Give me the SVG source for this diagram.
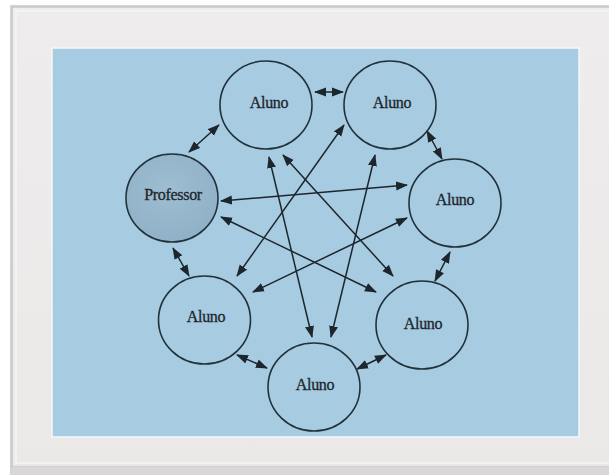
<svg xmlns="http://www.w3.org/2000/svg" width="609" height="475" viewBox="0 0 609 475">
<defs>
<style>
.node{fill:none;stroke:#22323b;stroke-width:1.6}
.lbl{font-family:"Liberation Serif","DejaVu Serif",serif;font-size:16px;fill:#1c262c;text-anchor:middle;stroke:#1c262c;stroke-width:0.3;letter-spacing:-0.3px}
.con line{stroke:#1c262c;stroke-width:1.5;marker-start:url(#ah);marker-end:url(#ah)}
</style>
<marker id="ah" markerUnits="userSpaceOnUse" markerWidth="12" markerHeight="10" refX="11" refY="5" orient="auto-start-reverse" viewBox="0 0 12 10">
<path d="M0,0.5 L12,5 L0,9.5 Z" fill="#1c262c"/>
</marker>
<radialGradient id="pg" cx="0.45" cy="0.4" r="0.7">
<stop offset="0" stop-color="#9ebdd1"/>
<stop offset="1" stop-color="#8dafc5"/>
</radialGradient>
<linearGradient id="fr" x1="0" y1="0" x2="0" y2="1">
<stop offset="0" stop-color="#eeecec"/>
<stop offset="1" stop-color="#ebe8e8"/>
</linearGradient>
</defs>
<rect x="0" y="0" width="609" height="475" fill="#ffffff"/>
<rect x="10" y="5" width="610" height="470" fill="#d6d4d4"/>
<rect x="12" y="7" width="608" height="460" fill="url(#fr)" stroke="#c9c7c7" stroke-width="1.5"/>
<rect x="16" y="11" width="600" height="452" fill="none" stroke="#f6f5f5" stroke-width="1.5"/>
<rect x="12" y="467" width="600" height="8" fill="#d9d7d7"/>
<rect x="52" y="48" width="527" height="389" fill="#a7cbe1" stroke="#f3f7f9" stroke-width="1.5"/>

<g class="con" id="connectors">
<line x1="315" y1="92" x2="343" y2="92"/>
<line x1="189" y1="152" x2="219" y2="125"/>
<line x1="427" y1="131" x2="442" y2="159"/>
<line x1="173" y1="248" x2="189" y2="276"/>
<line x1="450" y1="252" x2="435" y2="281"/>
<line x1="237" y1="355" x2="267" y2="368"/>
<line x1="357" y1="369" x2="386" y2="355"/>
<line x1="221" y1="201" x2="407" y2="185"/>
<line x1="221" y1="217" x2="376" y2="292"/>
<line x1="283" y1="155" x2="393" y2="276"/>
<line x1="269" y1="157" x2="312" y2="337"/>
<line x1="375" y1="155" x2="331" y2="337"/>
<line x1="344" y1="125" x2="237" y2="276"/>
<line x1="407" y1="218" x2="253" y2="292"/>
</g>

<g id="professor">
<ellipse cx="172" cy="198" rx="46" ry="44" fill="url(#pg)" stroke="#22323b" stroke-width="1.6"/>
<text class="lbl" x="173" y="200">Professor</text>
</g>
<g id="aluno-top-left">
<ellipse class="node" cx="266" cy="105" rx="46" ry="44"/>
<text class="lbl" x="269" y="108">Aluno</text>
</g>
<g id="aluno-top-right">
<ellipse class="node" cx="390" cy="105" rx="46" ry="44"/>
<text class="lbl" x="392" y="108">Aluno</text>
</g>
<g id="aluno-right">
<ellipse class="node" cx="455" cy="203" rx="46" ry="44"/>
<text class="lbl" x="455" y="205">Aluno</text>
</g>
<g id="aluno-bottom-right">
<ellipse class="node" cx="422" cy="325" rx="46" ry="44"/>
<text class="lbl" x="423" y="329">Aluno</text>
</g>
<g id="aluno-bottom">
<ellipse class="node" cx="314" cy="387" rx="46" ry="44"/>
<text class="lbl" x="315" y="390">Aluno</text>
</g>
<g id="aluno-bottom-left">
<ellipse class="node" cx="204.5" cy="320" rx="46" ry="44"/>
<text class="lbl" x="206" y="322">Aluno</text>
</g>
</svg>
